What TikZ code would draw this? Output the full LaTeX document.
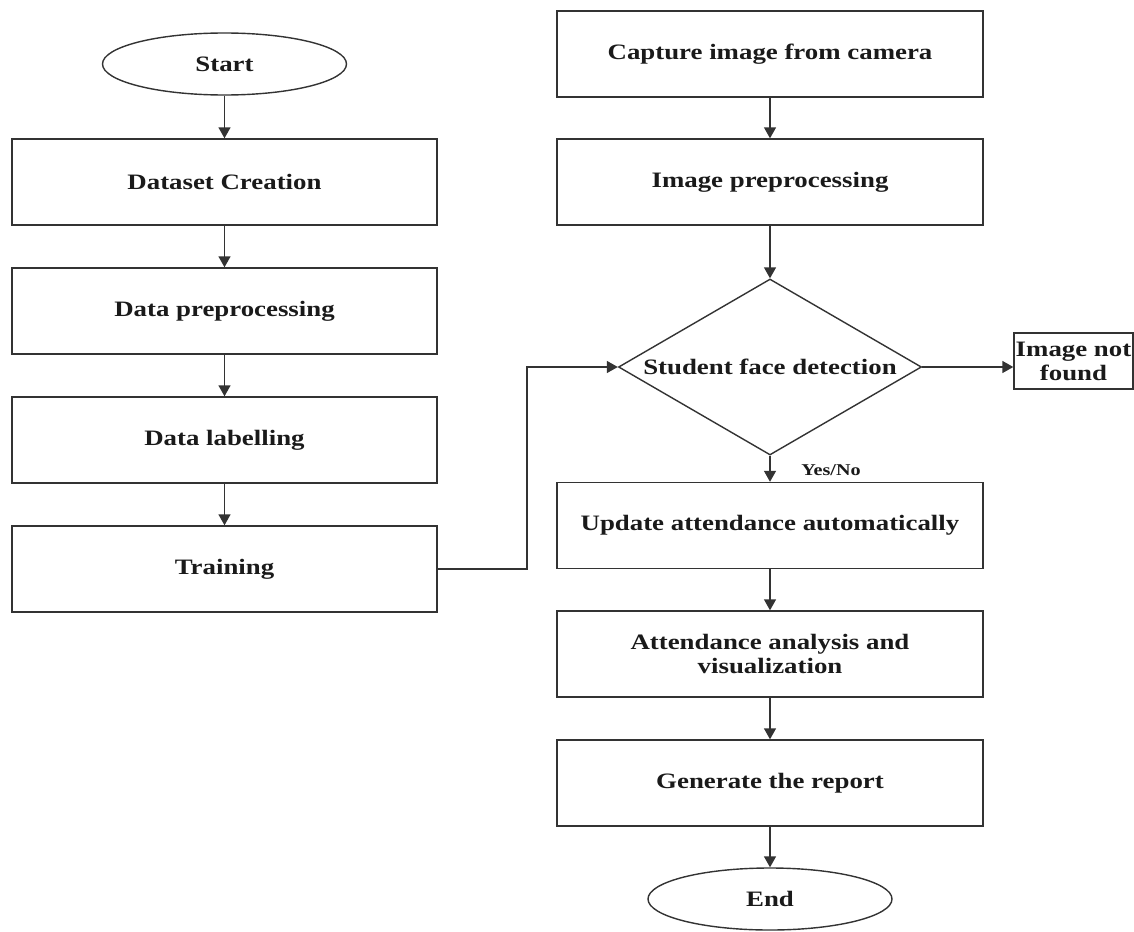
\documentclass[tikz,border=0pt]{standalone}
\usepackage{fontspec}
\setmainfont{Liberation Serif}[FakeStretch=1.22]
\usetikzlibrary{shapes.geometric,arrows.meta}
\definecolor{lc}{HTML}{333333}
\definecolor{tc}{HTML}{1A1A1A}
\begin{document}
\begin{tikzpicture}[x=1pt,y=1pt,
  base/.style={draw=lc,line width=1.4pt,text=tc,font=\fontsize{22}{24}\selectfont\bfseries,align=center,inner sep=0pt},
  procbox/.style={base,rectangle,minimum width=425pt,minimum height=86pt},
  termnode/.style={base,ellipse,minimum width=244pt,minimum height=62pt},
  decnode/.style={base,diamond,aspect=1.72,minimum width=303pt,minimum height=176pt},
  arr/.style={draw=lc,line width=1.4pt,-{Triangle[length=11pt,width=12pt]}},
  lnk/.style={draw=lc,line width=1.4pt}]
\useasboundingbox (0,0) rectangle (1134,-931);
\fill[white] (0,0) rectangle (1134,-931);
% left column
\node[termnode] (start) at (224.5,-64) {Start};
\node[procbox] (ds) at (224.5,-182) {Dataset Creation};
\node[procbox] (dp) at (224.5,-311) {Data preprocessing};
\node[procbox] (dl) at (224.5,-440) {Data labelling};
\node[procbox] (tr) at (224.5,-569) {Training};
% right column
\node[procbox,minimum width=426pt] (cap) at (770,-54) {Capture image from camera};
\node[procbox,minimum width=426pt] (ip) at (770,-182) {Image preprocessing};
\node[decnode] (dia) at (770,-367) {Student face detection};
\node[base,rectangle,minimum width=119pt,minimum height=56pt] (inf) at (1073.5,-361) {Image not\\found};
\node[procbox,minimum width=426pt] (up) at (770,-525.5) {Update attendance automatically};
\node[procbox,minimum width=426pt] (an) at (770,-654) {Attendance analysis and\\visualization};
\node[procbox,minimum width=426pt] (gen) at (770,-783) {Generate the report};
\node[termnode] (end) at (770,-899) {End};
\node[text=tc,font=\fontsize{16.5}{18}\selectfont\bfseries] (yn) at (831,-470) {Yes/No};
% connectors
\draw[arr] (start) -- (ds);
\draw[arr] (ds) -- (dp);
\draw[arr] (dp) -- (dl);
\draw[arr] (dl) -- (tr);
\coordinate (bend1) at (527,-569);
\coordinate (bend2) at (527,-367);
\draw[arr] (tr.east) -- (bend1) -- (bend2) -- (dia.west);
\draw[arr] (cap) -- (ip);
\draw[arr] (ip) -- (dia.north);
\draw[arr] (dia.east) -- (inf.west |- dia.east);
\draw[arr] (dia.south) -- (up);
\draw[arr] (up) -- (an);
\draw[arr] (an) -- (gen);
\draw[arr] (gen) -- (end);
\end{tikzpicture}
\end{document}
